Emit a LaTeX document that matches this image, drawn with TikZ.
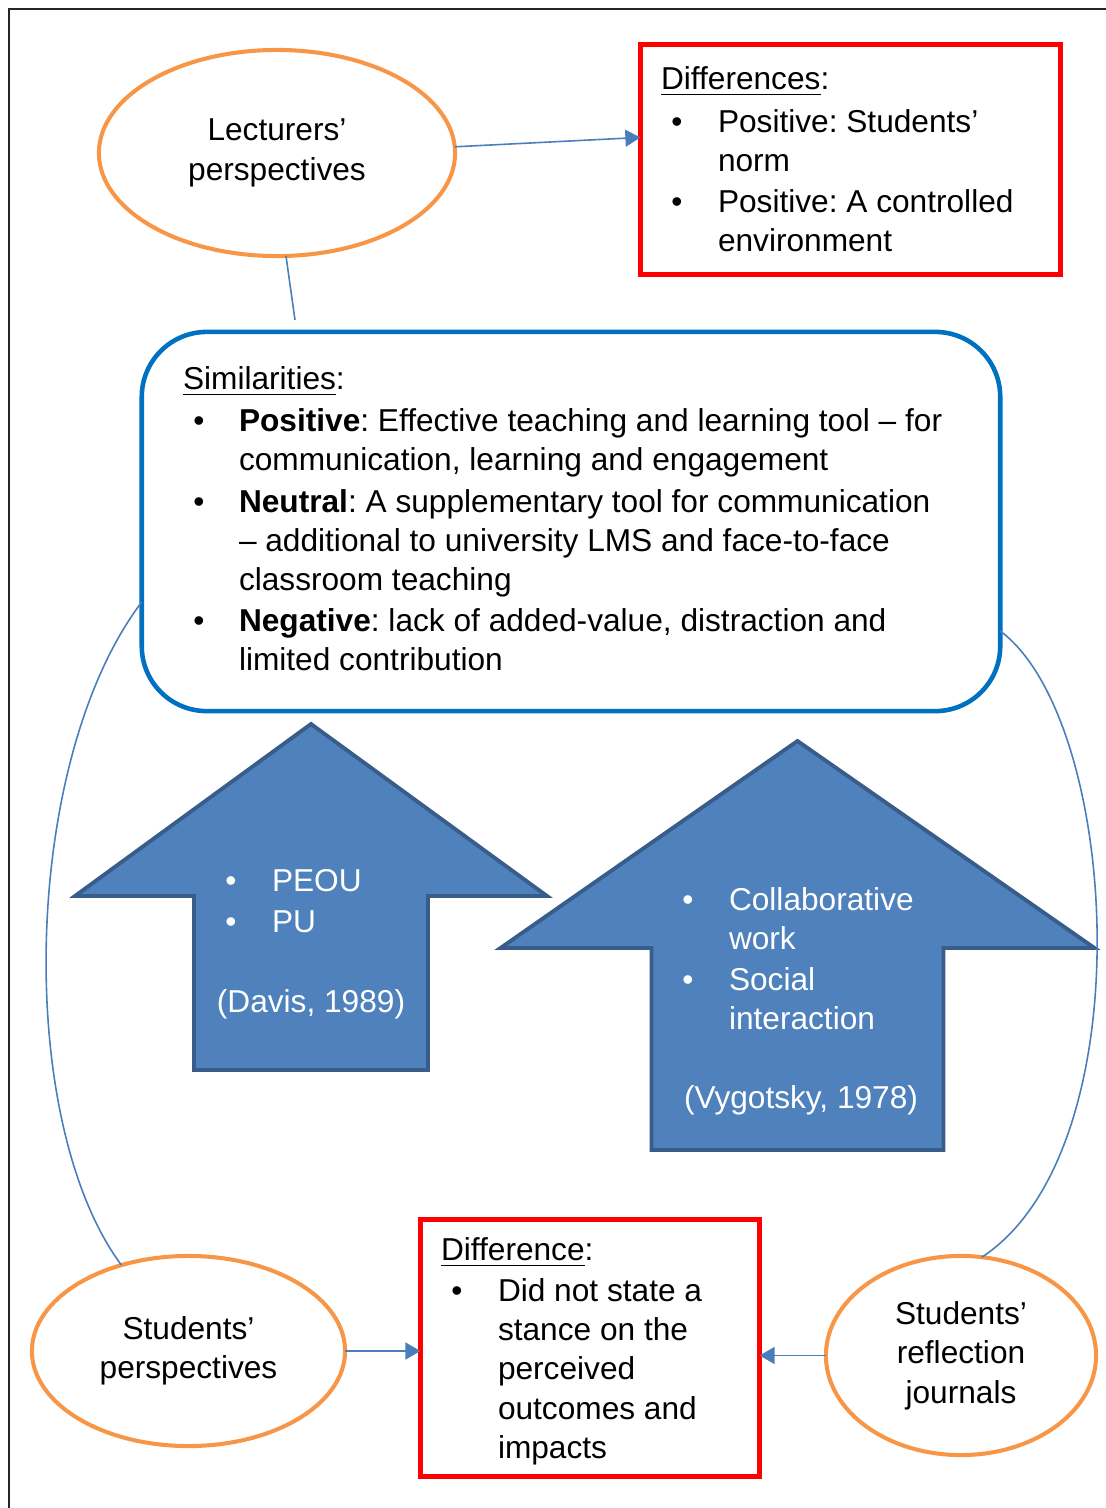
\documentclass[tikz,border=0pt]{standalone}
\usepackage{fontspec}
\setmainfont{Liberation Sans}
\usetikzlibrary{calc,arrows.meta,shapes.geometric}
\definecolor{ringorange}{HTML}{F79646}
\definecolor{boxred}{HTML}{FF0000}
\definecolor{simblue}{HTML}{0070C0}
\definecolor{arrowfill}{HTML}{4F81BD}
\definecolor{arrowedge}{HTML}{385D8A}
\definecolor{connblue}{HTML}{4A7EBB}
\frenchspacing
\newcommand\bodyfont{\fontsize{9}{11.2}\selectfont}
\newcommand\bulletline[5]{% name, bullet x, text x, baseline, text
\node (#1b) at (#2,#4) [anchor=base] {\textbullet};
\node (#1) at (#3,#4) [anchor=base west] {\begin{tabular}[t]{@{}l@{}}#5\end{tabular}};}
\newcommand\theoryarrow[6]{% centre, tip, head half, head base, shaft half, bottom
\draw[theory] (#1,#2) -- (#1+#3,#4) -- (#1+#5,#4) -- (#1+#5,#6)
  -- (#1-#5,#6) -- (#1-#5,#4) -- (#1-#3,#4) -- cycle;}

\begin{document}
\begin{tikzpicture}[x=0.01cm,y=-0.01cm,
    every node/.style={font=\bodyfont,inner sep=0pt,outer sep=0pt},
    persp/.style={ellipse,draw=ringorange,line width=1.15pt,align=center},
    diffbox/.style={rectangle,draw=boxred,line width=1.4pt},
    simbox/.style={rectangle,rounded corners=6.5mm,draw=simblue,line width=1.3pt},
    theory/.style={fill=arrowfill,draw=arrowedge,line width=1.1pt},
    conn/.style={draw=connblue,line width=0.45pt},
    pointer/.style={-{Triangle[length=1.5mm,width=1.7mm]}}]
      \useasboundingbox (0,0) rectangle (1106,1508);
      \draw[line width=0.6pt,black!85] (9,1508) -- (9,9) -- (1106,9);

      % lecturers
      \node (lect) at (277,153) [persp,minimum width=3.56cm,minimum height=2.06cm] {Lecturers’\\perspectives};
      \node (diffs) at (850.5,159.5) [diffbox,minimum width=4.2cm,minimum height=2.3cm] {};
      \node (diffsh) at (661,89) [anchor=base west] {\underline{Differences}:};
      \bulletline{dp1}{677}{718}{132}{Positive: Students’\\norm}
      \bulletline{dp2}{677}{718}{212}{Positive: A controlled\\environment}

      % similarities
      \node (sim) at (571,521.5) [simbox,minimum width=8.58cm,minimum height=3.79cm] {};
      \node (simh) at (183,389) [anchor=base west] {\underline{Similarities}:};
      \bulletline{sp1}{199}{239}{431}{\textbf{Positive}: Effective teaching and learning tool – for\\communication, learning and engagement}
      \bulletline{sp2}{199}{239}{512}{\textbf{Neutral}: A supplementary tool for communication\\– additional to university LMS and face-to-face\\classroom teaching}
      \bulletline{sp3}{199}{239}{631}{\textbf{Negative}: lack of added-value, distraction and\\limited contribution}

      % theories
      \theoryarrow{311}{724}{236}{896}{117}{1070}
      \theoryarrow{797.5}{741}{297}{948}{146}{1150}
      \begin{scope}[white]
      \bulletline{tam1}{231}{272}{891}{PEOU}
      \bulletline{tam2}{231}{272}{932}{PU}
      \node (davis) at (311,1012) [anchor=base] {(Davis, 1989)};
      \bulletline{sct1}{688}{729}{910}{Collaborative\\work}
      \bulletline{sct2}{688}{729}{990}{Social\\interaction}
      \node (vygotsky) at (801,1108) [anchor=base] {(Vygotsky, 1978)};
      \end{scope}

      % students
      \node (stud) at (188.5,1351) [persp,minimum width=3.13cm,minimum height=1.9cm] {Students’\\perspectives};
      \node (dif) at (590,1348) [diffbox,minimum width=3.39cm,minimum height=2.57cm] {};
      \node (difh) at (441,1260) [anchor=base west] {\underline{Difference}:};
      \bulletline{df1}{457}{498}{1301}{Did not state a\\stance on the\\perceived\\outcomes and\\impacts}
      \node (jour) at (961,1355.5) [persp,minimum width=2.7cm,minimum height=1.99cm] {Students’\\reflection\\journals};

      \coordinate (simtop) at (295,320);
      \draw[conn,pointer] (lect.2) -- (diffs.174);
      \draw[conn] (lect.-85) -- (simtop);
      \draw[conn,pointer] (stud.east) -- (stud.east -| dif.west);
      \draw[conn,pointer] (jour.west) -- (jour.west -| dif.east);
      \draw[conn] (sim.west |- 0,602) .. controls (22,760) and (14,1120) .. (stud.128);
      \draw[conn] (sim.east |- 0,631) .. controls (1120,720) and (1145,1150) .. (jour.78);
\end{tikzpicture}
\end{document}
